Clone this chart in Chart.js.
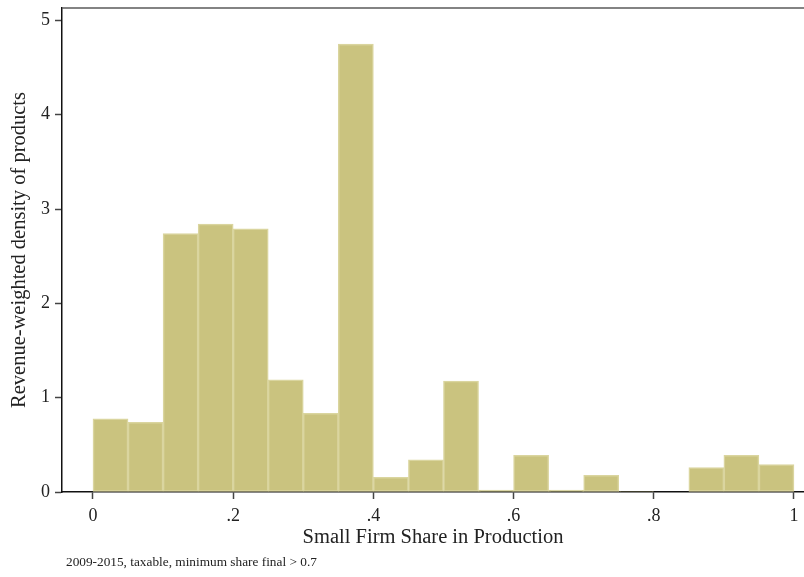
<!DOCTYPE html>
<html>
<head>
<meta charset="utf-8">
<script src="https://cdn.jsdelivr.net/npm/chart.js@4/dist/chart.umd.min.js"></script>
<style>
  html, body { margin: 0; padding: 0; background: #ffffff; }
  #wrap { width: 804px; height: 577px; position: relative; }
</style>
</head>
<body>
<div id="wrap"><canvas id="hist"></canvas></div>
<script>
// Histogram bins: left edges of 0.05-wide bins on the small-firm share
const binStarts = [0.00, 0.05, 0.10, 0.15, 0.20, 0.25, 0.30, 0.35, 0.40, 0.45,
                   0.50, 0.55, 0.60, 0.65, 0.70, 0.75, 0.80, 0.85, 0.90, 0.95];
const binWidth = 0.05;
// Revenue-weighted density in each bin
const density = [0.775, 0.74, 2.74, 2.84, 2.79, 1.19, 0.835, 4.75, 0.156, 0.34,
                 1.175, 0.02, 0.39, 0.02, 0.177, 0.005, 0.0, 0.26, 0.39, 0.29];
// Axis ticks and their labels
const xTickValues = [0, 0.2, 0.4, 0.6, 0.8, 1];
const xTickLabels = ['0', '.2', '.4', '.6', '.8', '1'];
const yTickValues = [0, 1, 2, 3, 4, 5];

const xTitle = 'Small Firm Share in Production';
const yTitle = 'Revenue-weighted density of products';
const footnote = '2009-2015, taxable, minimum share final > 0.7';

const serif = "'Liberation Serif', 'DejaVu Serif', serif";

const points = binStarts.map((s, i) => ({ x: s + binWidth / 2, y: density[i] }));

// Thin grey frame line along the top of the plot and the note under the chart
const extras = {
  id: 'extras',
  afterDraw(chart) {
    const { ctx, chartArea } = chart;
    ctx.save();
    ctx.strokeStyle = '#5a5a5a';
    ctx.lineWidth = 1.5;
    ctx.beginPath();
    ctx.moveTo(chartArea.left, chartArea.top);
    ctx.lineTo(chartArea.right, chartArea.top);
    ctx.stroke();
    ctx.fillStyle = '#222222';
    ctx.font = "13.3px " + serif;
    ctx.textBaseline = 'middle';
    ctx.textAlign = 'left';
    ctx.fillText(footnote, 66, 563);
    ctx.restore();
  }
};

new Chart(document.getElementById('hist'), {
  type: 'bar',
  data: {
    datasets: [{
      data: points,
      backgroundColor: '#cac37f',
      borderColor: '#dad59f',
      borderWidth: 1.5,
      barPercentage: 1.0,
      categoryPercentage: 1.0,
      borderSkipped: false
    }]
  },
  options: {
    responsive: true,
    maintainAspectRatio: false,
    animation: false,
    devicePixelRatio: 1,
    layout: { padding: { top: 8, right: 0, left: 0, bottom: 0 } },
    plugins: {
      legend: { display: false },
      tooltip: { enabled: false }
    },
    scales: {
      x: {
        type: 'linear',
        offset: false,
        min: -0.0442,
        max: 1.0143,
        afterBuildTicks(scale) {
          scale.ticks = xTickValues.map(v => ({ value: v }));
        },
        afterFit(scale) {
          scale.height = 85;
          scale.paddingLeft = 0;
          scale.paddingRight = 0;
        },
        ticks: {
          autoSkip: false,
          maxRotation: 0,
          padding: 6,
          color: '#222222',
          font: { family: serif, size: 18 },
          callback(value) {
            const i = xTickValues.findIndex(v => Math.abs(v - value) < 1e-9);
            return i >= 0 ? xTickLabels[i] : '';
          }
        },
        grid: {
          offset: false,
          drawOnChartArea: false,
          drawTicks: true,
          tickLength: 7,
          tickColor: '#444444',
          tickWidth: 1.5
        },
        border: { display: true, color: '#111111', width: 1.5 },
        title: {
          display: true,
          text: xTitle,
          color: '#222222',
          font: { family: serif, size: 20.5 },
          padding: { top: 0, bottom: 27 }
        }
      },
      y: {
        type: 'linear',
        min: 0,
        max: 5.132,
        afterBuildTicks(scale) {
          scale.ticks = yTickValues.map(v => ({ value: v }));
        },
        afterFit(scale) {
          scale.width = 62;
          scale.paddingTop = 0;
          scale.paddingBottom = 0;
        },
        ticks: {
          padding: 5,
          color: '#222222',
          font: { family: serif, size: 18 },
          callback(value) { return String(value); }
        },
        grid: {
          drawOnChartArea: false,
          drawTicks: true,
          tickLength: 7,
          tickColor: '#444444',
          tickWidth: 1.5
        },
        border: { display: true, color: '#111111', width: 1.5 },
        title: {
          display: true,
          text: yTitle,
          color: '#222222',
          font: { family: serif, size: 20.5 },
          padding: { top: 7, bottom: 0 }
        }
      }
    }
  },
  plugins: [extras]
});
</script>
</body>
</html>
